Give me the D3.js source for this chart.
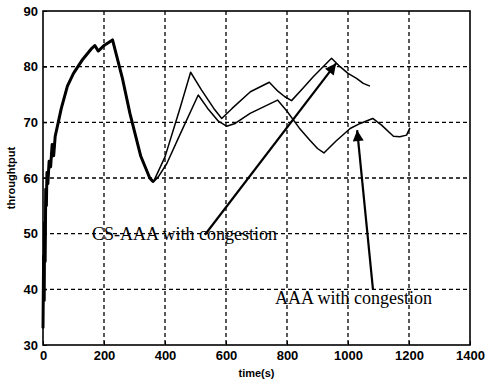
<!DOCTYPE html>
<html>
<head>
<meta charset="utf-8">
<script src="https://cdn.jsdelivr.net/npm/d3@7/dist/d3.min.js"></script>
<style>
  body { margin: 0; background: #fff; }
  svg { display: block; }
</style>
</head>
<body>
<div id="chart"></div>
<script>
// shared start (both curves overlap until the first dip)
var startT = [0, 2, 4, 5, 7, 9, 11, 13, 16, 20, 25, 30, 35, 40, 50, 60, 80, 100, 130, 160, 170, 181, 200, 228, 260, 285, 320, 350, 362];
var startV = [33, 46, 38, 52, 45, 58, 55, 61, 59, 63, 62, 66, 64, 67.5, 70, 72.5, 76.5, 78.8, 81.3, 83.3, 83.8, 82.8, 83.8, 84.8, 78, 71.6, 64, 60, 59.3];

// CS-AAA with congestion
var csT = [400, 449, 484, 520, 560, 586, 620, 680, 742, 770, 793, 815, 850, 886, 946, 974, 1000, 1028, 1050, 1072];
var csV = [63.8, 72.5, 79, 75.8, 72.5, 70.7, 72.5, 75.5, 77.2, 75.6, 74.6, 73.9, 76, 78.2, 81.5, 80, 78.8, 77.9, 77, 76.5];

// AAA with congestion
var aaaT = [378, 406, 449, 509, 540, 575, 602, 630, 679, 769, 800, 840, 875, 900, 921, 960, 1007, 1040, 1081, 1110, 1149, 1170, 1192, 1203];
var aaaV = [60.2, 62.6, 67.8, 74.9, 72.5, 70.2, 69.3, 69.8, 71.6, 74, 72, 69, 66.8, 65.3, 64.5, 66.6, 68.9, 69.8, 70.7, 69.5, 67.5, 67.4, 67.7, 69];

var xTicks = [0, 200, 400, 600, 800, 1000, 1200, 1400];
var yTicks = [30, 40, 50, 60, 70, 80, 90];

// annotations: label position and arrow (from -> to) in data units
var labels = ["CS-AAA with congestion", "AAA with congestion"];
var labelT = [161, 761];
var labelV = [48.9, 37.4];
var arrowFromT = [531, 1082];
var arrowFromV = [49.8, 39.9];
var arrowToT = [961, 1030];
var arrowToV = [80.6, 68.6];

var width = 486, height = 386;
var margin = {top: 11, right: 16, bottom: 41, left: 43};
var w = width - margin.left - margin.right,
    h = height - margin.top - margin.bottom;

var svg = d3.select("#chart").append("svg")
    .attr("width", width)
    .attr("height", height)
    .style("background", "#fff");

var g = svg.append("g")
    .attr("transform", "translate(" + margin.left + "," + margin.top + ")");

var x = d3.scaleLinear().domain([0, 1400]).range([0, w]);
var y = d3.scaleLinear().domain([30, 90]).range([h, 0]);

// grid
g.selectAll(".vgrid")
    .data(xTicks.slice(1, -1))
    .enter().append("line")
    .attr("x1", function (d) { return x(d); })
    .attr("x2", function (d) { return x(d); })
    .attr("y1", 0).attr("y2", h)
    .attr("stroke", "#000")
    .attr("stroke-width", 1.3)
    .attr("stroke-dasharray", "4,3");

g.selectAll(".hgrid")
    .data(yTicks.slice(1, -1))
    .enter().append("line")
    .attr("y1", function (d) { return y(d); })
    .attr("y2", function (d) { return y(d); })
    .attr("x1", 0).attr("x2", w)
    .attr("stroke", "#000")
    .attr("stroke-width", 1.3)
    .attr("stroke-dasharray", "4,3");

// axes
var xAxis = g.append("g")
    .attr("transform", "translate(0," + h + ")")
    .call(d3.axisBottom(x).tickValues(xTicks).tickSize(-4).tickPadding(6).tickFormat(d3.format("d")));
var yAxis = g.append("g")
    .call(d3.axisLeft(y).tickValues(yTicks).tickSize(-4).tickPadding(5).tickFormat(d3.format("d")));

[xAxis, yAxis].forEach(function (a) {
    a.select(".domain").remove();
    a.selectAll("line").attr("stroke", "#000");
    a.selectAll("text")
        .attr("fill", "#000")
        .style("font-family", "'Liberation Sans Narrow', 'Liberation Sans', Arial, sans-serif")
        .style("font-weight", "bold")
        .style("font-size", "13px");
});

// frame
g.append("rect")
    .attr("width", w).attr("height", h)
    .attr("fill", "none")
    .attr("stroke", "#000")
    .attr("stroke-width", 1.6);

// axis labels
svg.append("text")
    .attr("x", margin.left + w / 2)
    .attr("y", 377)
    .attr("text-anchor", "middle")
    .style("font-family", "'Liberation Sans', Arial, sans-serif")
    .style("font-weight", "bold")
    .style("font-size", "11px")
    .text("time(s)");

svg.append("text")
    .attr("transform", "translate(15," + (margin.top + h / 2) + ") rotate(-90)")
    .attr("text-anchor", "middle")
    .style("font-family", "'Liberation Sans', Arial, sans-serif")
    .style("font-weight", "bold")
    .style("font-size", "11px")
    .text("throughtput");

// curves
var line = d3.line()
    .x(function (d) { return x(d[0]); })
    .y(function (d) { return y(d[1]); });

var start = startT.map(function (t, i) { return [t, startV[i]]; });
var cs = csT.map(function (t, i) { return [t, csV[i]]; });
var aaa = aaaT.map(function (t, i) { return [t, aaaV[i]]; });

g.append("path")
    .datum(start.concat(cs))
    .attr("fill", "none")
    .attr("stroke", "#000")
    .attr("stroke-width", 1.5)
    .attr("stroke-linejoin", "round")
    .attr("d", line);

g.append("path")
    .datum(start.concat(aaa))
    .attr("fill", "none")
    .attr("stroke", "#000")
    .attr("stroke-width", 1.5)
    .attr("stroke-linejoin", "round")
    .attr("d", line);

// thicker overlapped section
g.append("path")
    .datum(start)
    .attr("fill", "none")
    .attr("stroke", "#000")
    .attr("stroke-width", 3)
    .attr("stroke-linejoin", "round")
    .attr("d", line);

// arrowheads
svg.append("defs").append("marker")
    .attr("id", "arrow")
    .attr("viewBox", "0 0 10 10")
    .attr("refX", 10).attr("refY", 5)
    .attr("markerWidth", 6).attr("markerHeight", 5)
    .attr("markerUnits", "strokeWidth")
    .attr("orient", "auto")
    .append("path")
    .attr("d", "M0,0 L10,5 L0,10 z")
    .attr("fill", "#000");

labels.forEach(function (lab, i) {
    g.append("line")
        .attr("x1", x(arrowFromT[i])).attr("y1", y(arrowFromV[i]))
        .attr("x2", x(arrowToT[i])).attr("y2", y(arrowToV[i]))
        .attr("stroke", "#000")
        .attr("stroke-width", 2.2)
        .attr("marker-end", "url(#arrow)");

    g.append("text")
        .attr("x", x(labelT[i]))
        .attr("y", y(labelV[i]))
        .style("font-family", "'Liberation Serif', 'Times New Roman', serif")
        .style("font-size", "18px")
        .attr("fill", "#000")
        .text(lab);
});
</script>
</body>
</html>
